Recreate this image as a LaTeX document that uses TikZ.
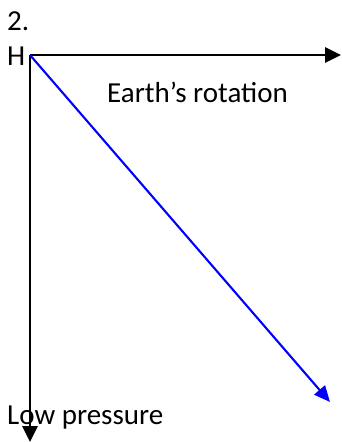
\documentclass[tikz,border=0pt]{standalone}
\usepackage{fontspec}
\setmainfont{Carlito}
\usetikzlibrary{arrows.meta}
\begin{document}
\begin{tikzpicture}[x=1pt,y=-1pt,
  lbl/.style={font=\fontsize{29}{34}\selectfont, inner sep=0pt, anchor=base west},
  blk/.style={line width=2.7pt, -{Triangle[length=16pt,width=15pt]}},
  blu/.style={line width=2.1pt, blue, -{Triangle[length=16pt,width=14pt]}}]
\useasboundingbox (0,0) rectangle (341,442);
\coordinate (O) at (30,55);
\coordinate (E) at (341,55);
\coordinate (S) at (30,442);
\coordinate (B) at (330,402);
\draw[blk] (O) -- (E);
\draw[blk] (O) -- (S);
\draw[blu] (O) -- (B);
\node[lbl] (two) at (7,30) {2.};
\node[lbl] (h) at (7,65) {H};
\node[lbl] (er) at (107,102) {Earth’s rotation};
\node[lbl] (lp) at (7,424) {Low pressure};
\end{tikzpicture}
\end{document}
